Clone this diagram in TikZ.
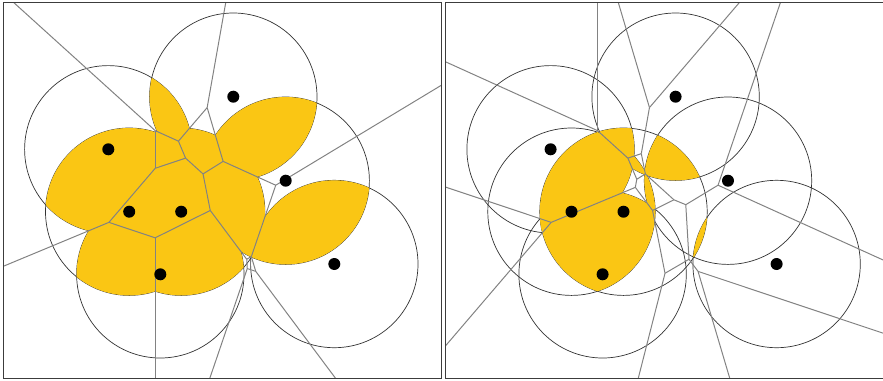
\documentclass[tikz,border=0pt]{standalone}
\definecolor{lensfill}{RGB}{250,198,20}
\definecolor{edgegray}{RGB}{130,130,130}
\definecolor{framegray}{RGB}{60,60,60}
\tikzset{
  disk/.style={draw=black!80,line width=0.6pt},
  vedge/.style={draw=edgegray,line width=0.85pt},
  panel/.style={draw=framegray,line width=1pt}
}
% sites, in units of 100 px
\def\sitex{{2.333,1.083,2.857,1.292,1.812,3.343,1.603}}
\def\sitey{{0.967,1.493,1.807,2.117,2.117,2.640,2.743}}
\def\rad{83.7}
% edges of the order-#1 Voronoi diagram, shifted right by #2
\newcommand\orderedges[2]{%
  \foreach \i in {0,...,6}{
    \foreach \j in {0,...,6}{
      \ifnum\j>\i
        \pgfmathsetmacro\xa{\sitex[\i]}
        \pgfmathsetmacro\ya{\sitey[\i]}
        \pgfmathsetmacro\xb{\sitex[\j]}
        \pgfmathsetmacro\yb{\sitey[\j]}
        \pgfmathsetmacro\mx{(\xa+\xb)/2}
        \pgfmathsetmacro\my{(\ya+\yb)/2}
        \pgfmathsetmacro\dl{veclen(\xb-\xa,\yb-\ya)}
        \pgfmathsetmacro\vx{(\ya-\yb)/\dl}
        \pgfmathsetmacro\vy{(\xb-\xa)/\dl}
        \xdef\tlist{-7}
        \xdef\ablist{1/0}
        \foreach \m in {0,...,6}{
          \ifnum\m=\i\else\ifnum\m=\j\else
            \pgfmathsetmacro\xc{\sitex[\m]}
            \pgfmathsetmacro\yc{\sitey[\m]}
            \pgfmathsetmacro\ca{(\mx-\xc)^2+(\my-\yc)^2-(\mx-\xa)^2-(\my-\ya)^2}
            \pgfmathsetmacro\cb{2*((\vx)*(\xa-\xc)+(\vy)*(\ya-\yc))}
            \pgfmathsetmacro\cb{abs(\cb)<0.001 ? 0.001 : \cb}
            \pgfmathsetmacro\tc{-(\ca)/(\cb)}
            \xdef\tlist{\tlist,\tc}
            \xdef\ablist{\ablist,\ca/\cb}
          \fi\fi
        }
        \foreach \ts in \tlist{
          \pgfmathtruncatemacro\ok{((\ts)>(-7.001))*((\ts)<7)}
          \ifnum\ok=1
            \xdef\te{7}
            \foreach \tc in \tlist{
              \pgfmathsetmacro\tn{((\tc)>(\ts))*((\tc)<(\te)) ? \tc : \te}
              \xdef\te{\tn}
            }
            \pgfmathsetmacro\tm{((\ts)+(\te))/2}
            \xdef\cnt{0}
            \foreach \ca/\cb in \ablist{
              \pgfmathtruncatemacro\cn{\cnt+(((\ca)+(\cb)*(\tm))<0)}
              \xdef\cnt{\cn}
            }
            \ifnum\cnt=\numexpr#1-1\relax
              \draw[vedge] ({#2+100*((\mx)+(\ts)*(\vx))},{100*((\my)+(\ts)*(\vy))})
                -- ({#2+100*((\mx)+(\te)*(\vx))},{100*((\my)+(\te)*(\vy))});
            \fi
          \fi
        }
      \fi
    }
  }%
}
\begin{document}
\begin{tikzpicture}[x=0.03cm,y=-0.03cm]
  \useasboundingbox (0,0) rectangle (883,380);
  \foreach \n in {0,...,6}{
    \pgfmathsetmacro\xx{100*\sitex[\n]}
    \pgfmathsetmacro\yy{100*\sitey[\n]}
    \coordinate (a\n) at (\xx,\yy);
    \coordinate (b\n) at (\xx+442.3,\yy);
  }
  % left: covered by two disks, order-2 diagram
  \foreach \n in {0,...,6}
    \draw[disk] (a\n) circle[radius=\rad];
  \foreach \i in {0,...,6}{
    \foreach \j in {0,...,6}{
      \ifnum\j>\i
        \begin{scope}
          \clip (a\i) circle[radius=\rad];
          \fill[lensfill] (a\j) circle[radius=\rad];
        \end{scope}
      \fi
    }
  }
  \begin{scope}
    \clip (3.3,2.7) rectangle (441.7,378.3);
    \orderedges{2}{0}
  \end{scope}
  \foreach \n in {0,...,6}
    \fill (a\n) circle[radius=6];
  \draw[panel] (3.3,2.7) rectangle (441.7,378.3);
  % right: covered by three disks, order-3 diagram
  \foreach \n in {0,...,6}
    \draw[disk] (b\n) circle[radius=\rad];
  \foreach \i in {0,...,6}{
    \foreach \j in {0,...,6}{
      \foreach \l in {0,...,6}{
        \pgfmathtruncatemacro\code{100*\i+10*\j+\l}
        \ifnum\j>\i \ifnum\l>\j \ifnum\code=136\else \ifnum\code=246\else
          \begin{scope}
            \clip (b\i) circle[radius=\rad];
            \clip (b\j) circle[radius=\rad];
            \fill[lensfill] (b\l) circle[radius=\rad];
          \end{scope}
        \fi\fi\fi\fi
      }
    }
  }
  \begin{scope}
    \clip (445.7,2.7) rectangle (884.1,378.3);
    \orderedges{3}{442.3}
  \end{scope}
  \foreach \n in {0,...,6}
    \fill (b\n) circle[radius=6];
  \draw[panel] (445.7,2.7) rectangle (884.1,378.3);
\end{tikzpicture}
\end{document}
